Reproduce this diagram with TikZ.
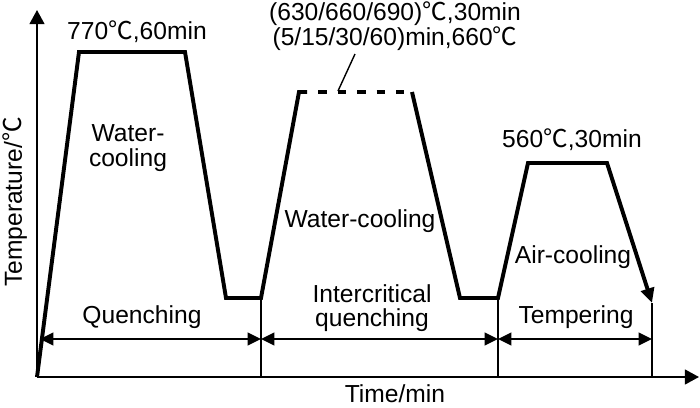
\documentclass[tikz,border=0pt]{standalone}
\usepackage{fontspec}
\setmainfont{Liberation Sans}
\newfontfamily\cjk{Noto Sans CJK SC}
\usetikzlibrary{arrows.meta, positioning}
\newcommand{\celsius}{{\cjk ℃}}

\begin{document}
\begin{tikzpicture}[x=0.025cm, y=-0.025cm,
    every node/.style={font=\fontsize{17.5}{17.5}\selectfont, inner sep=0pt, align=center},
    curva/.style={line width=2.8pt, line join=miter},
    eje/.style={line width=1.4pt, -{Triangle[length=10pt, width=10.5pt]}},
    guia/.style={line width=1pt},
    tramo/.style={line width=1.4pt, {Triangle[length=9.5pt, width=9pt]}-{Triangle[length=9.5pt, width=9pt]}}]
\useasboundingbox (0,0) rectangle (700,408);
% Ejes: temperatura y tiempo
\coordinate (O) at (37,377);
\coordinate (ytop) at (37,10);
\coordinate (xend) at (699,377);
\draw[eje] (O) -- (ytop);
\draw[eje] (O) -- (xend);
\node[rotate=90] (ylab) at (15,202) {Temperature/\celsius};
\node (xlab) at (395,394) {Time/min};
% Puntos del ciclo termico
\coordinate (a1) at (79,52);
\coordinate (a2) at (185,52);
\coordinate (a3) at (226,298);
\coordinate (a4) at (261,298);
\coordinate (b1) at (299,92);
\coordinate (b2) at (412,92);
\coordinate (b3) at (460,298);
\coordinate (b4) at (498,298);
\coordinate (c1) at (528,163);
\coordinate (c2) at (607,163);
\coordinate (c3) at (652,303);
% Ciclo: temple, temple intercritico y revenido
\draw[curva] (O) -- (a1) -- (a2) -- (a3) -- (a4) -- (b1) -- +(8,0);
\draw[curva, dash pattern=on 6pt off 7.8pt] (b1) -- (b2);
\draw[curva, -{Triangle[length=10.5pt, width=9.5pt]}] (b2) -- (b3) -- (b4) -- (c1) -- (c2) -- (c3);
% Lineas de separacion
\coordinate (q1) at (261,377);
\coordinate (q2) at (498,377);
\coordinate (q3) at (652,377);
\draw[guia] (a4) -- (q1);
\draw[guia] (b4) -- (q2);
\draw[guia] (c3) -- (q3);
% Flechas de cada etapa
\coordinate (d0) at (40,339);
\coordinate (d1) at (261,339);
\coordinate (d2) at (498,339);
\coordinate (d3) at (652,339);
\draw[tramo] (d0) -- (d1);
\draw[tramo] (d1) -- (d2);
\draw[tramo] (d2) -- (d3);
% Textos
\node (t770) at (137,32) {770\celsius,60min};
\node (wc1) at (128,148) {Water-\\cooling};
\node[font=\fontsize{17.5}{14.5}\selectfont] (t630) at (395,26)
  {(630/660/690)\celsius,30min\\(5/15/30/60)min,660\celsius};
\coordinate (lead1) at (338,91);
\coordinate (lead2) at (355,54);
\draw[guia] (lead1) -- (lead2);
\node (wc2) at (360,221) {Water-cooling};
\node (t560) at (572,140) {560\celsius,30min};
\node (ac) at (573,257) {Air-cooling};
\node (quench) at (142,317) {Quenching};
\node (inter) at (372,308) {Intercritical\\quenching};
\node (temper) at (576,317) {Tempering};
\end{tikzpicture}
\end{document}
